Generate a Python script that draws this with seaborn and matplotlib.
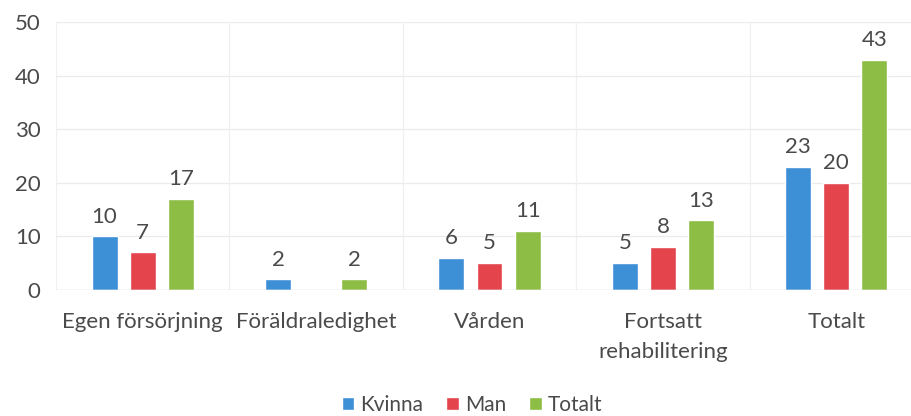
import matplotlib
matplotlib.use("Agg")
import matplotlib.pyplot as plt
import seaborn as sns
import pandas as pd

categories = ["Egen försörjning", "Föräldraledighet", "Vården", "Fortsatt\nrehabilitering", "Totalt"]
series = ["Kvinna", "Man", "Totalt"]
kvinna = [10, 2, 6, 5, 23]
man = [7, 0, 5, 8, 20]
totalt = [17, 2, 11, 13, 43]
yticks = [0, 10, 20, 30, 40, 50]

colors = ["#3d8fd6", "#e4444c", "#8dbd45"]
text_color = "#4a4a4a"
fs = 16

df = pd.DataFrame({
    "Kategori": categories * 3,
    "Grupp": [s for s in series for _ in categories],
    "Antal": kvinna + man + totalt,
})

sns.set_theme(style="white")
plt.rcParams["font.family"] = ["Lato", "DejaVu Sans"]

fig = plt.figure(figsize=(9.12, 4.16), dpi=100)
ax = fig.add_axes([56 / 912, 126 / 416, 867 / 912, 268 / 416])

sns.barplot(data=df, x="Kategori", y="Antal", hue="Grupp", order=categories,
            hue_order=series, palette=colors, width=0.66, gap=0.32,
            saturation=1, ax=ax, legend=True)

ax.set_ylim(0, 50)
ax.set_xlim(-0.5, len(categories) - 0.5)
ax.set_yticks(yticks)
ax.set_xlabel("")
ax.set_ylabel("")

# faint grid: horizontal value lines and vertical category separators
for y in yticks[1:]:
    ax.axhline(y, color="#ebebeb", lw=0.9, zorder=0)
for x in range(len(categories) + 1):
    ax.axvline(x - 0.5, color="#f0f0f0", lw=0.9, zorder=0)
ax.axhline(0, color="#d9d9d9", lw=1.0, zorder=1)

for s in ax.spines.values():
    s.set_visible(False)

ax.tick_params(axis="y", length=0, pad=11, labelsize=fs, labelcolor=text_color)
ax.tick_params(axis="x", length=0, pad=16, labelsize=fs, labelcolor=text_color)
for lbl in ax.get_xticklabels():
    lbl.set_linespacing(1.6)
    lbl.set_verticalalignment("top")

for cont in ax.containers:
    for bar in cont:
        h = bar.get_height()
        if h > 0:
            ax.annotate(f"{h:.0f}", (bar.get_x() + bar.get_width() / 2, h),
                        xytext=(0, 7), textcoords="offset points",
                        ha="center", va="bottom", fontsize=fs, color=text_color)

handles, labels = ax.get_legend_handles_labels()
ax.legend_.remove()
fig.legend(handles, labels, loc="center", bbox_to_anchor=(472 / 912, 1 - 405 / 416),
           ncol=3, frameon=False, fontsize=15, labelcolor=text_color,
           handlelength=0.6, handleheight=0.6, handletextpad=0.3, columnspacing=1.1)

fig.savefig("out.png", dpi=100, facecolor="white")
